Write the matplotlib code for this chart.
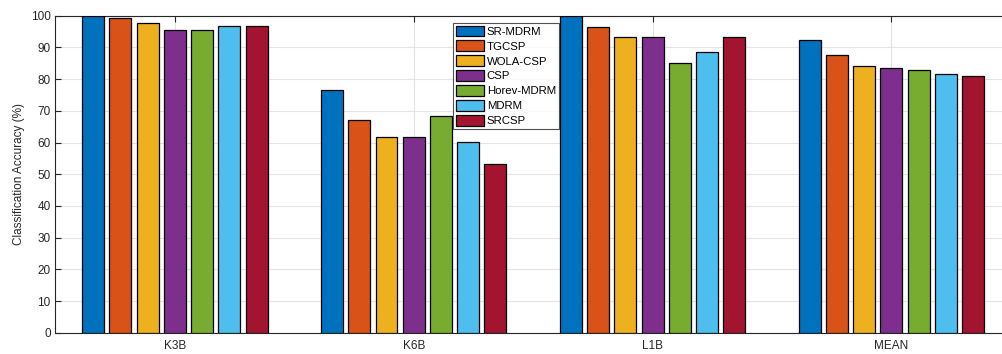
import numpy as np
import matplotlib
matplotlib.use("Agg")
import matplotlib.pyplot as plt

plt.rcParams['font.family'] = ['Liberation Sans', 'DejaVu Sans']

# Datasets and methods
datasets = ["K3B", "K6B", "L1B", "MEAN"]
methods = ["SR-MDRM", "TGCSP", "WOLA-CSP", "CSP", "Horev-MDRM", "MDRM", "SRCSP"]

# Accuracy (%) per method, one value per dataset
sr_mdrm = [100.0, 76.7, 100.0, 92.2]
tgcsp = [99.2, 67.2, 96.5, 87.6]
wola_csp = [97.7, 61.6, 93.3, 84.2]
csp = [95.5, 61.6, 93.3, 83.5]
horev_mdrm = [95.5, 68.3, 85.1, 83.0]
mdrm = [96.6, 60.1, 88.4, 81.7]
srcsp = [96.6, 53.2, 93.3, 81.0]

series = [sr_mdrm, tgcsp, wola_csp, csp, horev_mdrm, mdrm, srcsp]
colors = ["#0072BD", "#D95319", "#EDB120", "#7E2F8E", "#77AC30", "#4DBEEE", "#A2142F"]

fig = plt.figure(figsize=(10.03, 3.54), dpi=100)
ax = fig.add_axes([55.5 / 1003, 21.3 / 354, 955.3 / 1003, 317.0 / 354])

x = np.arange(1, len(datasets) + 1)
step = 0.114
width = 0.092
for i, (vals, c, name) in enumerate(zip(series, colors, methods)):
    offs = (i - 3) * step
    ax.bar(x + offs, vals, width, color=c, edgecolor="black", linewidth=0.9,
           label=name, zorder=3)

ax.set_xlim(0.5, 4.5)
ax.set_ylim(0, 100)
ax.set_xticks(x)
ax.set_xticklabels(datasets)
ax.set_yticks(np.arange(0, 101, 10))
ax.set_ylabel("Classification Accuracy (%)", fontsize=8.5, color="#262626")

ax.grid(True, color="#e3e3e3", linewidth=0.8, zorder=0)
ax.set_axisbelow(True)
ax.tick_params(direction="in", length=4, labelsize=8.5, colors="#262626",
               top=True, right=True, width=0.8)
ax.tick_params(axis="x", pad=5)
for s in ax.spines.values():
    s.set_color("#262626")
    s.set_linewidth(0.8)

leg = ax.legend(loc="upper left", bbox_to_anchor=((452.7 - 55.5) / 955.3, 1 - (22.7 - 15.7) / 317.0),
                fontsize=8.2, frameon=True, fancybox=False, borderpad=0.25,
                labelspacing=0.33, handlelength=2.5, handleheight=1.05,
                handletextpad=0.25, borderaxespad=0)
leg.get_frame().set_edgecolor("#262626")
leg.get_frame().set_linewidth(0.8)
leg.set_zorder(5)

fig.savefig("out.png", dpi=100)
